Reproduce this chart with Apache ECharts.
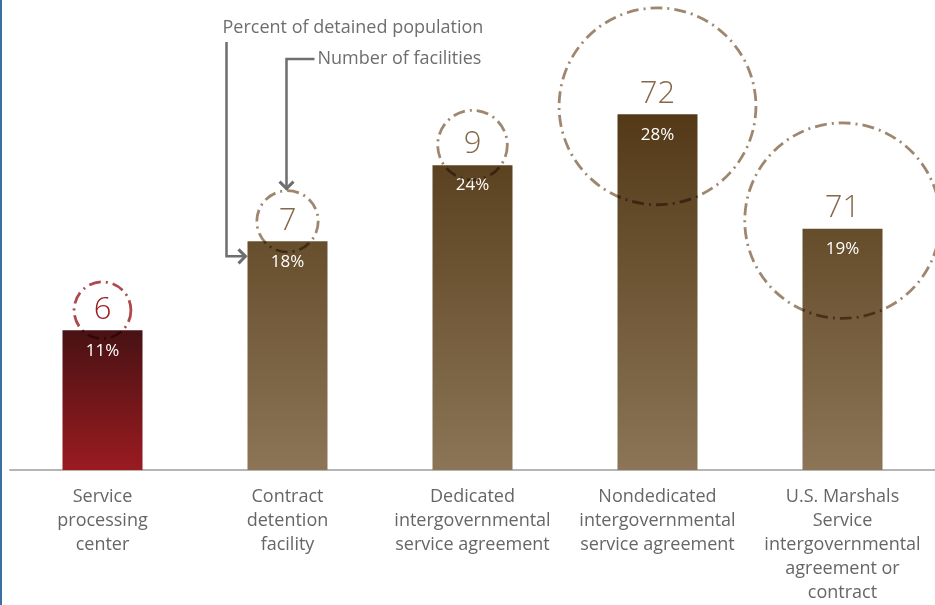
<!DOCTYPE html>
<html>
<head>
<meta charset="utf-8">
<script src="https://cdn.jsdelivr.net/npm/echarts@6/dist/echarts.min.js"></script>
<style>
  html, body { margin: 0; padding: 0; background: #fff; }
  #chart { width: 935px; height: 605px; }
</style>
</head>
<body>
<div id="chart"></div>
<script>
// data
var categories = [
  'Service\nprocessing\ncenter',
  'Contract\ndetention\nfacility',
  'Dedicated\nintergovernmental\nservice agreement',
  'Nondedicated\nintergovernmental\nservice agreement',
  'U.S. Marshals\nService\nintergovernmental\nagreement or\ncontract'
];
var percentDetained = [11, 18, 24, 28, 19];
var facilityCount = [6, 7, 9, 72, 71];

var RED = '#9b1c22';
var BROWN = '#86694a';
var FONT = 'Open Sans';

var chartDom = document.getElementById('chart');
var myChart = echarts.init(chartDom);

// brown bars share one gradient over the whole plot
var brownFill = new echarts.graphic.LinearGradient(0, 115, 0, 474, [
  { offset: 0, color: '#533917' },
  { offset: 1, color: '#8c7657' }
], true);
var redFill = new echarts.graphic.LinearGradient(0, 0, 0, 1, [
  { offset: 0, color: '#481214' },
  { offset: 1, color: '#9a1b20' }
]);

// circle area follows the number of facilities
function circleSize(n) { return 23.2 * Math.sqrt(n); }
function circleLift(n) { return circleSize(n) < 100 ? 20 : 8; }

var barData = percentDetained.map(function (v, i) {
  return { value: v, itemStyle: { color: i === 0 ? redFill : brownFill } };
});
var countData = percentDetained.map(function (v, i) {
  return {
    value: v,
    label: { formatter: String(facilityCount[i]), color: i === 0 ? RED : BROWN }
  };
});
var circleData = percentDetained.map(function (v, i) {
  return {
    value: [i, v],
    symbolSize: circleSize(facilityCount[i]),
    symbolOffset: [0, -circleLift(facilityCount[i])],
    itemStyle: { borderColor: i === 0 ? RED : BROWN }
  };
});

var option = {
  animation: false,
  grid: { left: 10, right: 0, top: 0, bottom: 131 },
  xAxis: {
    type: 'category',
    data: categories,
    axisTick: { show: false },
    axisLine: { lineStyle: { color: '#b5b5b5', width: 2 } },
    axisLabel: {
      interval: 0,
      margin: 15,
      color: '#666666',
      fontFamily: FONT,
      fontSize: 18,
      lineHeight: 24
    }
  },
  yAxis: { type: 'value', min: 0, max: 37, show: false },
  series: [
    {
      type: 'bar',
      barWidth: 80,
      data: barData,
      label: {
        show: true,
        position: 'insideTop',
        distance: 12,
        formatter: '{c}%',
        color: '#ffffff',
        fontFamily: FONT,
        fontSize: 17
      },
      z: 2
    },
    {
      // invisible twin bar that only carries the facility count
      type: 'bar',
      barWidth: 80,
      barGap: '-100%',
      data: countData,
      itemStyle: { color: 'rgba(0,0,0,0)' },
      label: {
        show: true,
        position: 'top',
        distance: 5,
        fontFamily: FONT,
        fontWeight: 300,
        fontSize: 31
      },
      silent: true,
      z: 3
    },
    {
      type: 'scatter',
      symbol: 'circle',
      data: circleData,
      blendMode: 'multiply',
      itemStyle: {
        color: 'rgba(0,0,0,0)',
        borderWidth: 2.8,
        borderType: [12, 5, 2, 5]
      },
      silent: true,
      z: 4
    }
  ]
};

option && myChart.setOption(option);

// annotation arrows tied to the second bar
var cx = myChart.convertToPixel({ xAxisIndex: 0 }, 1);
var barTop = myChart.convertToPixel({ yAxisIndex: 0 }, percentDetained[1]);
var gray = '#6d6e70';
var circleTop = barTop - circleLift(facilityCount[1]) - circleSize(facilityCount[1]) / 2;
myChart.setOption({
  graphic: [
    { type: 'line', shape: { x1: 1, y1: 0, x2: 1, y2: 605 }, style: { stroke: '#3f6fa0', lineWidth: 2 } },
    {
      type: 'text', x: cx - 65, y: 28,
      style: { text: 'Percent of detained population', font: '18px "' + FONT + '"', fill: gray, verticalAlign: 'middle' }
    },
    {
      type: 'text', x: cx + 30, y: 59,
      style: { text: 'Number of facilities', font: '18px "' + FONT + '"', fill: gray, verticalAlign: 'middle' }
    },
    {
      type: 'polyline',
      shape: { points: [[cx - 61, 42], [cx - 61, barTop + 15], [cx - 43, barTop + 15]] },
      style: { stroke: gray, lineWidth: 2.5, fill: 'none' }
    },
    {
      type: 'polyline',
      shape: { points: [[cx - 49, barTop + 8], [cx - 42, barTop + 15], [cx - 49, barTop + 22]] },
      style: { stroke: gray, lineWidth: 3, fill: 'none' }
    },
    {
      type: 'polyline',
      shape: { points: [[cx + 27, 59], [cx - 1, 59], [cx - 1, circleTop - 2]] },
      style: { stroke: gray, lineWidth: 2.5, fill: 'none' }
    },
    {
      type: 'polyline',
      shape: { points: [[cx - 8, circleTop - 9], [cx - 1, circleTop - 2], [cx + 6, circleTop - 9]] },
      style: { stroke: gray, lineWidth: 3, fill: 'none' }
    }
  ]
});
</script>
</body>
</html>
